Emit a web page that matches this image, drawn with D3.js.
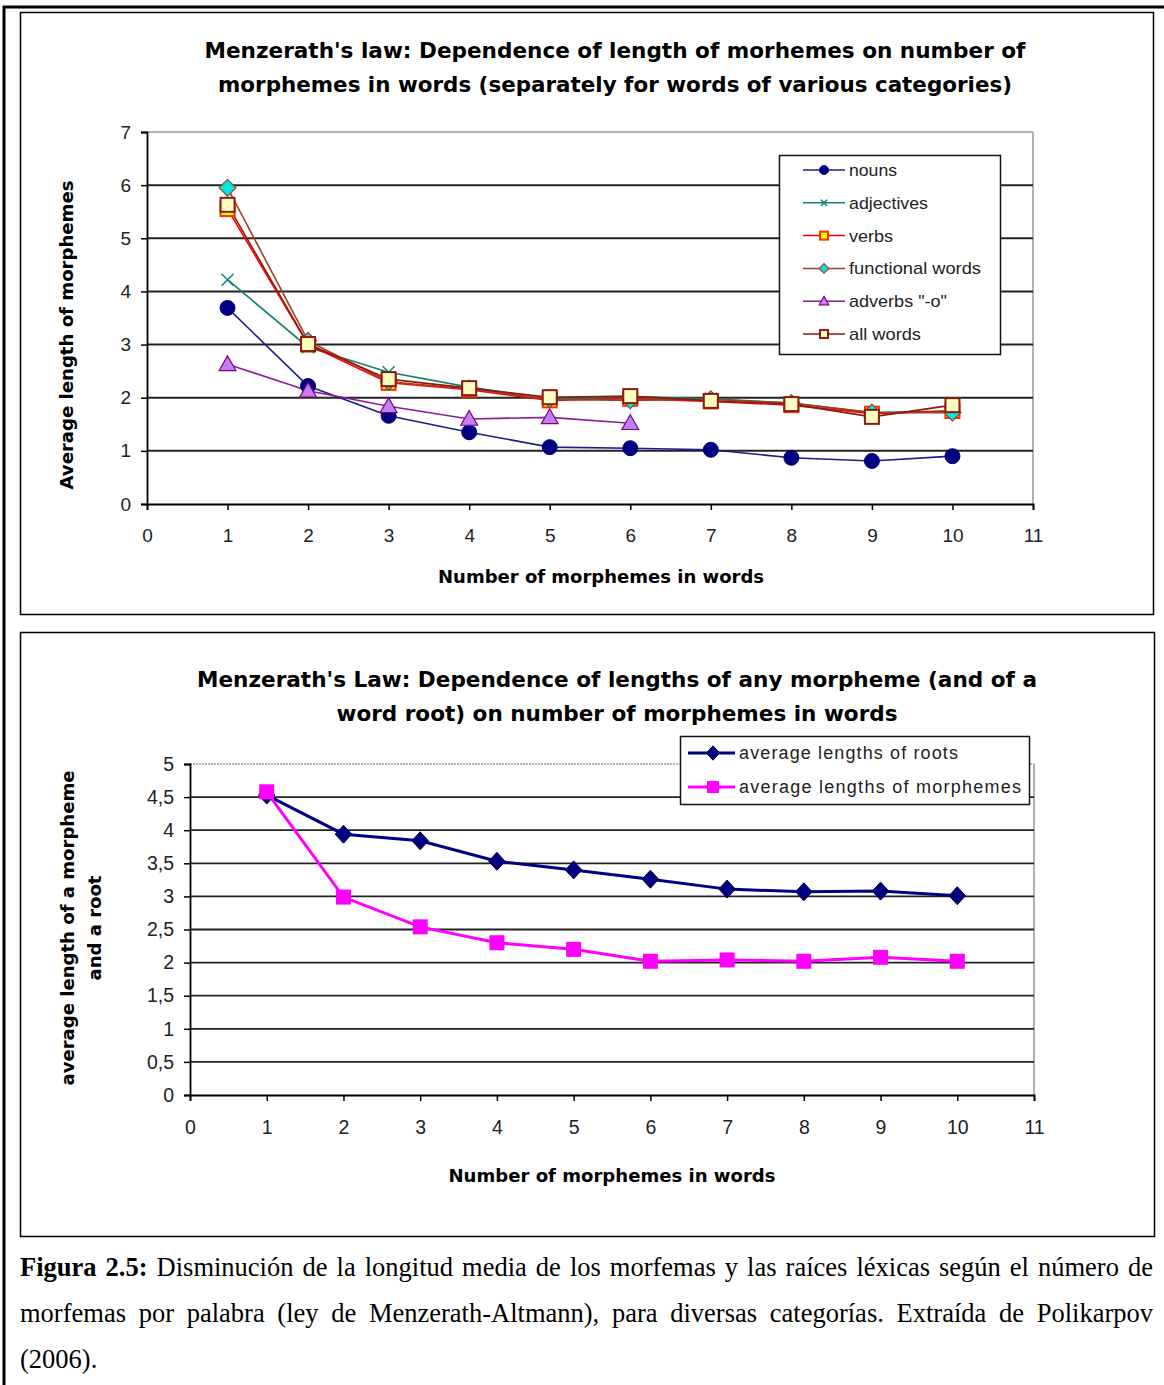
<!DOCTYPE html>
<html><head><meta charset="utf-8">
<script src="https://cdn.jsdelivr.net/npm/d3@7"></script>
<style>
body{margin:0;background:#fff;}
svg{display:block;}
</style></head>
<body>
<svg id="chart" width="1164" height="1385"></svg>
<script>
// ---------- data ----------
const categories = [1,2,3,4,5,6,7,8,9,10];
const nouns = [3.69,2.22,1.66,1.35,1.07,1.05,1.02,0.87,0.81,0.90];
const adjectives = [4.22,2.95,2.48,2.20,1.98,2.02,1.98,1.90,1.72,1.75];
const verbs = [5.55,3.00,2.28,2.15,1.95,1.98,1.93,1.86,1.70,1.75];
const functionalWords = [5.95,3.07,2.30,2.17,1.97,1.95,1.97,1.90,1.72,1.72];
const adverbs = [2.63,2.13,1.84,1.60,1.63,1.52];
const allWords = [5.63,3.01,2.35,2.18,2.01,2.03,1.94,1.88,1.64,1.86];
const topYTicks = [0,1,2,3,4,5,6,7];
const xTicks = [0,1,2,3,4,5,6,7,8,9,10,11];

const roots = [4.53,3.94,3.84,3.53,3.40,3.26,3.11,3.07,3.08,3.01];
const morphemes = [4.58,2.99,2.54,2.30,2.20,2.02,2.04,2.02,2.08,2.02];
const botYTicks = [0,0.5,1,1.5,2,2.5,3,3.5,4,4.5,5];

const topTitle = ["Menzerath's law: Dependence of length of morhemes on number of","morphemes in words (separately for words of various categories)"];
const botTitle = ["Menzerath's Law: Dependence of lengths of any morpheme (and of a","word root) on number of morphemes in words"];
const captionLines = [
  "Figura 2.5: Disminución de la longitud media de los morfemas y las raíces léxicas según el número de",
  "morfemas por palabra (ley de Menzerath-Altmann), para diversas categorías. Extraída de Polikarpov",
  "(2006)."
];

const svg = d3.select("#chart");
const SANS = "'Liberation Sans', Arial, sans-serif";
const BOLD = "'DejaVu Sans', Verdana, sans-serif";
const SERIF = "'Liberation Serif', 'Times New Roman', serif";

// outer frame
svg.append("line").attr("x1",3).attr("x2",1164).attr("y1",7).attr("y2",7).attr("stroke","#000").attr("stroke-width",3);
svg.append("line").attr("x1",4).attr("x2",4).attr("y1",6).attr("y2",1385).attr("stroke","#000").attr("stroke-width",3);
// chart boxes
svg.append("rect").attr("x",20.5).attr("y",12.5).attr("width",1133).attr("height",602).attr("fill","#fff").attr("stroke","#000").attr("stroke-width",1.5);
svg.append("rect").attr("x",20.5).attr("y",632.5).attr("width",1134).attr("height",604).attr("fill","#fff").attr("stroke","#000").attr("stroke-width",1.5);

function fitText(g, txt, x, y, len, size, weight, family, rotate){
  const t = g.append("text").attr("x",x).attr("y",y).attr("text-anchor","middle")
    .attr("font-family",family).attr("font-size",size).attr("font-weight",weight).text(txt);
  if(len) t.attr("textLength",len).attr("lengthAdjust","spacingAndGlyphs");
  if(rotate) t.attr("transform",`rotate(-90,${x},${y})`);
  return t;
}

// ================= TOP CHART =================
{
  const x = d3.scaleLinear().domain([0,11]).range([147,1033]);
  const y = d3.scaleLinear().domain([0,7]).range([504,132]);
  const g = svg.append("g");
  g.append("line").attr("x1",x(0)).attr("x2",x(11)).attr("y1",y(7)).attr("y2",y(7)).attr("stroke","#999").attr("stroke-width",1.5);
  g.append("line").attr("x1",x(11)).attr("x2",x(11)).attr("y1",y(7)).attr("y2",y(0)).attr("stroke","#999").attr("stroke-width",1.5);
  g.selectAll(".grid").data(topYTicks.filter(d=>d>0&&d<7)).enter().append("line")
    .attr("x1",x(0)).attr("x2",x(11)).attr("y1",d=>y(d)).attr("y2",d=>y(d)).attr("stroke","#222").attr("stroke-width",2);
  const ya = g.append("g").attr("transform",`translate(${x(0)},0)`).call(d3.axisLeft(y).tickValues(topYTicks).tickSize(6).tickPadding(10).tickFormat(d3.format("d")));
  const xa = g.append("g").attr("transform",`translate(0,${y(0)})`).call(d3.axisBottom(x).tickValues(xTicks).tickSize(6).tickPadding(19).tickFormat(d3.format("d")));
  [ya,xa].forEach(a=>{a.select(".domain").attr("stroke","#000").attr("stroke-width",1.8);
    a.selectAll(".tick line").attr("stroke","#000").attr("stroke-width",1.5);
    a.selectAll(".tick text").attr("font-family",SANS).attr("font-size",19).attr("fill","#222");});
  xa.selectAll(".tick line").attr("y1",0);

  const series = [
    {name:"nouns", data:nouns, line:"#1c1c8c", marker:"circle", fill:"#000080", stroke:"#000080"},
    {name:"adjectives", data:adjectives, line:"#108070", marker:"x", fill:"none", stroke:"#108080"},
    {name:"verbs", data:verbs, line:"#ff0000", marker:"square", fill:"#ffff00", stroke:"#ff3000"},
    {name:"functional words", data:functionalWords, line:"#a04020", marker:"diamond", fill:"#00e8e8", stroke:"#a04020"},
    {name:"adverbs \"-o\"", data:adverbs, line:"#8a1a9a", marker:"triangle", fill:"#c080f0", stroke:"#800080"},
    {name:"all words", data:allWords, line:"#8b1a10", marker:"square", fill:"#ffffc0", stroke:"#8b1a10"}
  ];
  function marker(sel, s, size){
    if(s.marker==="circle") sel.append("circle").attr("r",size*0.5).attr("fill",s.fill).attr("stroke",s.stroke);
    else if(s.marker==="square") sel.append("rect").attr("x",-size/2).attr("y",-size/2).attr("width",size).attr("height",size).attr("fill",s.fill).attr("stroke",s.stroke).attr("stroke-width",2);
    else if(s.marker==="diamond") sel.append("path").attr("d",`M0,${-size*0.6}L${size*0.6},0L0,${size*0.6}L${-size*0.6},0Z`).attr("fill",s.fill).attr("stroke",s.stroke).attr("stroke-width",1.2);
    else if(s.marker==="triangle") sel.append("path").attr("d",`M0,${-size*0.6}L${size*0.6},${size*0.45}L${-size*0.6},${size*0.45}Z`).attr("fill",s.fill).attr("stroke",s.stroke).attr("stroke-width",1.2);
    else if(s.marker==="x") sel.append("path").attr("d",`M${-size/2},${-size/2}L${size/2},${size/2}M${size/2},${-size/2}L${-size/2},${size/2}`).attr("stroke",s.stroke).attr("stroke-width",1.5);
  }
  const line = d3.line().x((d,i)=>x(categories[i])).y(d=>y(d));
  series.forEach(s=>{
    g.append("path").datum(s.data).attr("d",line).attr("fill","none").attr("stroke",s.line).attr("stroke-width",1.6);
  });
  series.forEach(s=>{
    s.data.forEach((v,i)=>{
      const m = g.append("g").attr("transform",`translate(${x(categories[i])},${y(v)})`);
      marker(m,s,s.marker==="circle"?15:s.marker==="x"?12:14);
    });
  });
  const lg = g.append("g");
  lg.append("rect").attr("x",779.5).attr("y",155.5).attr("width",221).attr("height",199).attr("fill","#fff").attr("stroke","#111").attr("stroke-width",1.5);
  const legendLens = [48,79,44,132,98,72];
  series.forEach((s,i)=>{
    const yy = 170 + i*32.8;
    lg.append("line").attr("x1",803).attr("x2",845).attr("y1",yy).attr("y2",yy).attr("stroke",s.line).attr("stroke-width",1.5);
    const m = lg.append("g").attr("transform",`translate(824,${yy})`);
    marker(m,s,s.marker==="circle"?9:s.marker==="x"?6:8);
    lg.append("text").attr("x",849).attr("y",yy+6).attr("font-family",SANS).attr("font-size",17).attr("fill","#222")
      .attr("textLength",legendLens[i]).attr("lengthAdjust","spacingAndGlyphs").text(s.name);
  });
  fitText(g,topTitle[0],615,58,821,21,"bold",BOLD);
  fitText(g,topTitle[1],615,92,794,21,"bold",BOLD);
  fitText(g,"Number of morphemes in words",601,583,326,17,"bold",BOLD);
  fitText(g,"Average length of morphemes",73,335,309,17,"bold",BOLD,true);
}

// ================= BOTTOM CHART =================
{
  const x = d3.scaleLinear().domain([0,11]).range([190,1034]);
  const y = d3.scaleLinear().domain([0,5]).range([1095,764]);
  const g = svg.append("g");
  g.append("line").attr("x1",x(0)).attr("x2",x(11)).attr("y1",y(5)).attr("y2",y(5)).attr("stroke","#999").attr("stroke-width",1.5).attr("stroke-dasharray","2,1");
  g.append("line").attr("x1",x(11)).attr("x2",x(11)).attr("y1",y(5)).attr("y2",y(0)).attr("stroke","#999").attr("stroke-width",1.5);
  g.selectAll(".grid").data(botYTicks.filter(d=>d>0&&d<5)).enter().append("line")
    .attr("x1",x(0)).attr("x2",x(11)).attr("y1",d=>y(d)).attr("y2",d=>y(d)).attr("stroke","#222").attr("stroke-width",1.8);
  const fmt = d => String(d).replace(".",",");
  const ya = g.append("g").attr("transform",`translate(${x(0)},0)`).call(d3.axisLeft(y).tickValues(botYTicks).tickSize(6).tickPadding(10).tickFormat(fmt));
  const xa = g.append("g").attr("transform",`translate(0,${y(0)})`).call(d3.axisBottom(x).tickValues(xTicks).tickSize(6).tickPadding(19).tickFormat(d3.format("d")));
  [ya,xa].forEach(a=>{a.select(".domain").attr("stroke","#000").attr("stroke-width",1.8);
    a.selectAll(".tick line").attr("stroke","#000").attr("stroke-width",1.5);
    a.selectAll(".tick text").attr("font-family",SANS).attr("font-size",19.5).attr("fill","#222");});
  xa.selectAll(".tick line").attr("y1",0);

  const series = [
    {name:"average lengths of roots", data:roots, color:"#000080", marker:"diamond"},
    {name:"average lengths of morphemes", data:morphemes, color:"#ff00ff", marker:"square"}
  ];
  const line = d3.line().x((d,i)=>x(categories[i])).y(d=>y(d));
  function marker(sel,s,size){
    if(s.marker==="diamond") sel.append("path").attr("d",`M0,${-size*0.6}L${size*0.55},0L0,${size*0.6}L${-size*0.55},0Z`).attr("fill",s.color).attr("stroke","#000040").attr("stroke-width",1);
    else sel.append("rect").attr("x",-size/2).attr("y",-size/2).attr("width",size).attr("height",size).attr("fill",s.color);
  }
  series.forEach(s=>{
    g.append("path").datum(s.data).attr("d",line).attr("fill","none").attr("stroke",s.color).attr("stroke-width",3);
  });
  series.forEach(s=>{
    s.data.forEach((v,i)=>{
      const m = g.append("g").attr("transform",`translate(${x(categories[i])},${y(v)})`);
      marker(m,s,15);
    });
  });
  const lg = g.append("g");
  lg.append("rect").attr("x",680.5).attr("y",736.5).attr("width",349).attr("height",68).attr("fill","#fff").attr("stroke","#111").attr("stroke-width",1.5);
  series.forEach((s,i)=>{
    const yy = 753 + i*34;
    lg.append("line").attr("x1",688).attr("x2",735).attr("y1",yy).attr("y2",yy).attr("stroke",s.color).attr("stroke-width",3);
    const m = lg.append("g").attr("transform",`translate(713,${yy})`);
    marker(m,s,12);
    lg.append("text").attr("x",739).attr("y",yy+6).attr("font-family",SANS).attr("font-size",18).attr("fill","#222")
      .attr("textLength", i===0?219:282).attr("lengthAdjust","spacing").text(s.name);
  });
  fitText(g,botTitle[0],617,687,840,22,"bold",BOLD);
  fitText(g,botTitle[1],617,721,561,22,"bold",BOLD);
  fitText(g,"Number of morphemes in words",612,1182,327,17,"bold",BOLD);
  fitText(g,"average length of a morpheme",74,928,315,17,"bold",BOLD,true);
  fitText(g,"and a root",101,928,105,17,"bold",BOLD,true);
}

// ================= CAPTION (justified) =================
{
  const g = svg.append("g").attr("font-family",SERIF).attr("font-size",26.5).attr("fill","#000");
  const left = 20, right = 1153;
  const baselines = [1276, 1322, 1368];
  captionLines.forEach((ln, li) => {
    const words = ln.split(" ");
    const nodes = words.map((w, wi) => {
      const t = g.append("text").attr("y", baselines[li]).text(w);
      if (li === 0 && wi < 2) t.attr("font-weight","bold");
      return t;
    });
    const widths = nodes.map(t => t.node().getComputedTextLength());
    const total = d3.sum(widths);
    const justify = li < captionLines.length - 1 && words.length > 1;
    const gap = justify ? (right - left - total) / (words.length - 1) : 6.6;
    let cx = left;
    nodes.forEach((t, i) => { t.attr("x", cx); cx += widths[i] + gap; });
  });
}
</script>
</body></html>
